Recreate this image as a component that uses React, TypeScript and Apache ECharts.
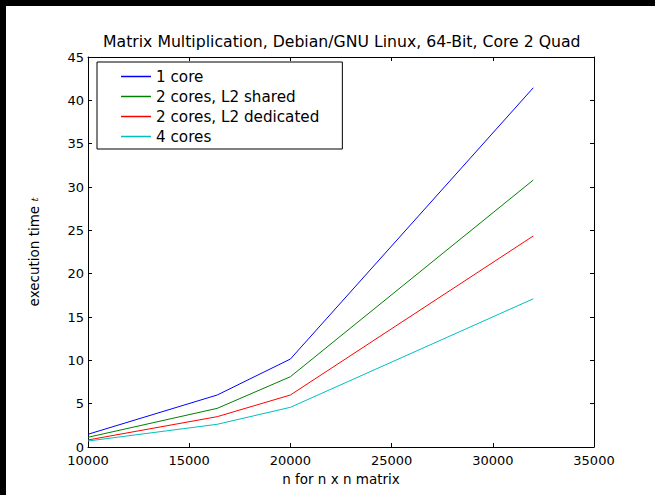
import React, { useEffect, useRef } from "react";
import * as echarts from "echarts";

const seriesNames = ["1 core", "2 cores, L2 shared", "2 cores, L2 dedicated", "4 cores"];
const seriesColors = ["#0000ff", "#008000", "#ff0000", "#00bfbf"];
const matrixSizes = [10000, 16384, 20000, 32000];
const oneCore = [1.47, 6.0, 10.15, 41.45];
const twoCoresShared = [1.12, 4.46, 8.11, 30.8];
const twoCoresDedicated = [0.81, 3.5, 6.0, 24.35];
const fourCores = [0.69, 2.62, 4.58, 17.1];
const xTicks = { min: 10000, max: 35000, interval: 5000 };
const yTicks = { min: 0, max: 45, interval: 5 };

const FONT = "DejaVu Sans";

export default function App() {
  const ref = useRef<HTMLDivElement>(null);
  useEffect(() => {
    if (!ref.current) return;
    const chart = echarts.init(ref.current, undefined, { renderer: "svg" });
    const allValues = [oneCore, twoCoresShared, twoCoresDedicated, fourCores];
    const axisLine = { show: true, onZero: false, lineStyle: { color: "#000", width: 1 } };
    const tickIn = { show: true, inside: true, length: 4, lineStyle: { color: "#000", width: 1 } };
    chart.setOption({
      animation: false,
      backgroundColor: "#ffffff",
      textStyle: { fontFamily: FONT },
      title: {
        text: "Matrix Multiplication, Debian/GNU Linux, 64-Bit, Core 2 Quad",
        left: 97,
        top: 27,
        padding: 0,
        textStyle: { fontFamily: FONT, fontSize: 15.7, fontWeight: "normal", color: "#000" },
      },
      legend: {
        orient: "vertical",
        left: 91,
        top: 56,
        data: seriesNames,
        icon: "rect",
        itemWidth: 30,
        itemHeight: 1.5,
        itemGap: 5,
        padding: [7, 23, 5, 24],
        borderColor: "#000",
        borderWidth: 1,
        borderRadius: 0,
        backgroundColor: "#fff",
        textStyle: { fontFamily: FONT, fontSize: 15.2, color: "#000", lineHeight: 15 },
      },
      grid: { left: 82, right: 61, top: 51, bottom: 48, containLabel: false },
      xAxis: [
        {
          type: "value",
          ...xTicks,
          name: "n for n x n matrix",
          nameLocation: "middle",
          nameGap: 16,
          nameTextStyle: { fontFamily: FONT, fontSize: 13.5, color: "#000" },
          axisLine,
          axisTick: tickIn,
          splitLine: { show: false },
          axisLabel: {
            fontFamily: FONT,
            fontSize: 13,
            lineHeight: 13,
            color: "#000",
            margin: 7,
            formatter: (v: number) => String(v),
          },
        },
        {
          type: "value",
          position: "top",
          ...xTicks,
          axisLine,
          axisTick: tickIn,
          splitLine: { show: false },
          axisLabel: { show: false },
        },
      ],
      yAxis: [
        {
          type: "value",
          ...yTicks,
          name: "execution time {i|t}",
          nameLocation: "middle",
          nameGap: 47,
          nameTextStyle: {
            fontFamily: FONT,
            fontSize: 13.5,
            color: "#000",
            rich: { i: { fontFamily: "DejaVu Serif", fontStyle: "italic", fontSize: 10, color: "#000" } },
          },
          axisLine,
          axisTick: tickIn,
          splitLine: { show: false },
          axisLabel: { fontFamily: FONT, fontSize: 13, lineHeight: 11, color: "#000", margin: 4 },
        },
        {
          type: "value",
          position: "right",
          ...yTicks,
          axisLine,
          axisTick: tickIn,
          splitLine: { show: false },
          axisLabel: { show: false },
        },
      ],
      series: seriesNames.map((name, i) => ({
        name,
        type: "line",
        xAxisIndex: 0,
        yAxisIndex: 0,
        showSymbol: false,
        symbol: "none",
        color: seriesColors[i],
        lineStyle: { color: seriesColors[i], width: 1 },
        data: matrixSizes.map((x, k) => [x, allValues[i][k]]),
      })),
    });
    return () => chart.dispose();
  }, []);
  return (
    <div style={{ position: "fixed", left: 0, top: 0, width: 655, height: 495, background: "#000" }}>
      <div ref={ref} style={{ position: "absolute", left: 6, top: 6, width: 649, height: 489 }} />
    </div>
  );
}
